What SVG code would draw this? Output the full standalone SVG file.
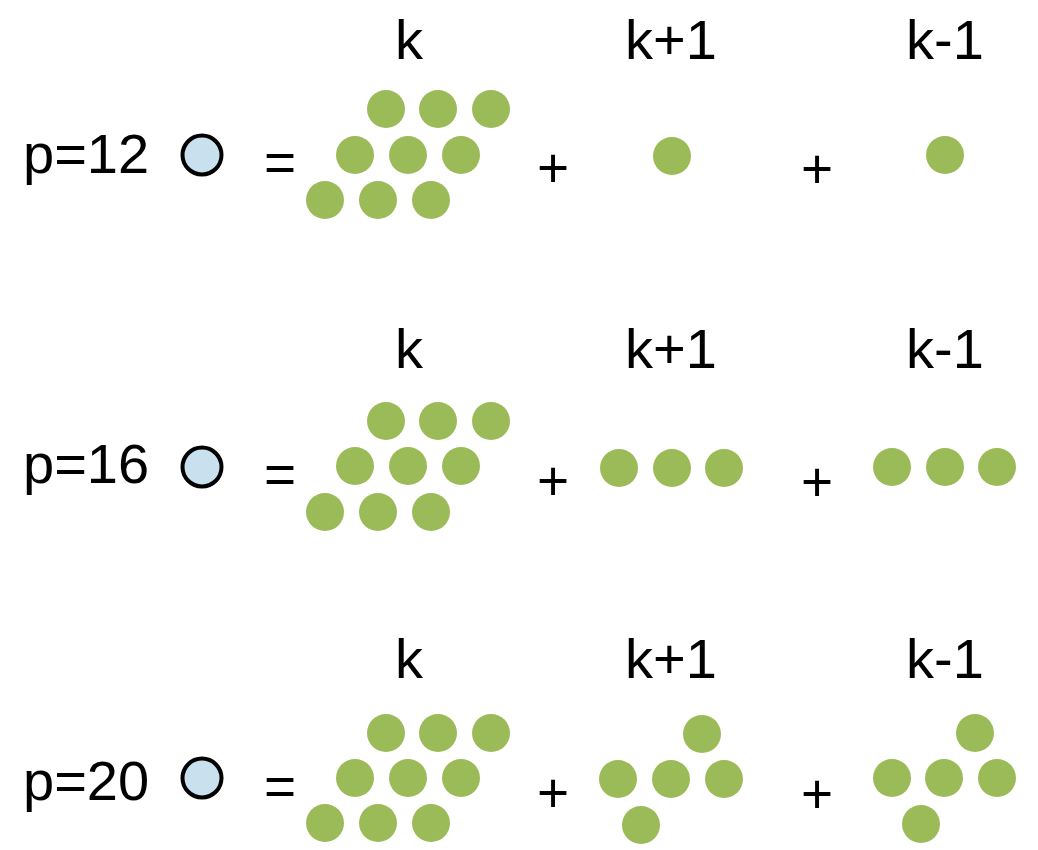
<svg xmlns="http://www.w3.org/2000/svg" width="1038" height="850" viewBox="0 0 1038 850">
<style>
  .t { font-family: "Liberation Sans", Arial, sans-serif; font-size: 56px; fill: #000; }
  .op { font-family: "Liberation Sans", Arial, sans-serif; font-size: 55px; fill: #000; text-anchor: middle; }
  .lbl { font-family: "Liberation Sans", Arial, sans-serif; font-size: 56px; fill: #000; text-anchor: middle; }
  .g { fill: #9BBB59; }
  .b { fill: #C9E0EE; stroke: #000; stroke-width: 4; }
</style>
<rect width="1038" height="850" fill="#fff"/>

<g id="row1">
  <text class="t" x="23" y="173">p=12</text>
  <circle class="b" cx="202" cy="155" r="19.5"/>
  <text class="op" x="280" y="181">=</text>
  <text class="lbl" x="409" y="59">k</text>
  <text class="lbl" x="671" y="59">k+1</text>
  <text class="lbl" x="945" y="59">k-1</text>
  <g id="r1-k">
    <circle class="g" cx="386" cy="109" r="19"/><circle class="g" cx="438" cy="109" r="19"/><circle class="g" cx="491" cy="109" r="19"/>
    <circle class="g" cx="355" cy="155" r="19"/><circle class="g" cx="408" cy="155" r="19"/><circle class="g" cx="461" cy="155" r="19"/>
    <circle class="g" cx="325" cy="200" r="19"/><circle class="g" cx="378" cy="200" r="19"/><circle class="g" cx="431" cy="200" r="19"/>
  </g>
  <text class="op" x="553" y="186.5">+</text>
  <g id="r1-kp1"><circle class="g" cx="672" cy="156" r="19"/></g>
  <text class="op" x="817" y="187.5">+</text>
  <g id="r1-km1"><circle class="g" cx="945" cy="155" r="19"/></g>
</g>

<g id="row2">
  <text class="t" x="23" y="483">p=16</text>
  <circle class="b" cx="202" cy="467" r="19.5"/>
  <text class="op" x="280" y="493">=</text>
  <text class="lbl" x="409" y="368">k</text>
  <text class="lbl" x="671" y="368">k+1</text>
  <text class="lbl" x="945" y="368">k-1</text>
  <g id="r2-k">
    <circle class="g" cx="386" cy="421" r="19"/><circle class="g" cx="438" cy="421" r="19"/><circle class="g" cx="491" cy="421" r="19"/>
    <circle class="g" cx="355" cy="466" r="19"/><circle class="g" cx="408" cy="466" r="19"/><circle class="g" cx="461" cy="466" r="19"/>
    <circle class="g" cx="325" cy="512" r="19"/><circle class="g" cx="378" cy="512" r="19"/><circle class="g" cx="431" cy="512" r="19"/>
  </g>
  <text class="op" x="553" y="499.5">+</text>
  <g id="r2-kp1">
    <circle class="g" cx="619" cy="468" r="19"/><circle class="g" cx="672" cy="468" r="19"/><circle class="g" cx="724" cy="468" r="19"/>
  </g>
  <text class="op" x="817" y="500.5">+</text>
  <g id="r2-km1">
    <circle class="g" cx="892" cy="467" r="19"/><circle class="g" cx="945" cy="467" r="19"/><circle class="g" cx="997" cy="467" r="19"/>
  </g>
</g>

<g id="row3">
  <text class="t" x="23" y="800">p=20</text>
  <circle class="b" cx="202" cy="778" r="19.5"/>
  <text class="op" x="280" y="805">=</text>
  <text class="lbl" x="409" y="678">k</text>
  <text class="lbl" x="671" y="678">k+1</text>
  <text class="lbl" x="945" y="678">k-1</text>
  <g id="r3-k">
    <circle class="g" cx="386" cy="733" r="19"/><circle class="g" cx="438" cy="733" r="19"/><circle class="g" cx="491" cy="733" r="19"/>
    <circle class="g" cx="355" cy="778" r="19"/><circle class="g" cx="408" cy="778" r="19"/><circle class="g" cx="461" cy="778" r="19"/>
    <circle class="g" cx="325" cy="823" r="19"/><circle class="g" cx="378" cy="823" r="19"/><circle class="g" cx="431" cy="823" r="19"/>
  </g>
  <text class="op" x="553" y="811.5">+</text>
  <g id="r3-kp1">
    <circle class="g" cx="702" cy="734" r="19"/>
    <circle class="g" cx="618" cy="779" r="19"/><circle class="g" cx="671" cy="779" r="19"/><circle class="g" cx="724" cy="779" r="19"/>
    <circle class="g" cx="641" cy="825" r="19"/>
  </g>
  <text class="op" x="817" y="812.5">+</text>
  <g id="r3-km1">
    <circle class="g" cx="975" cy="733" r="19"/>
    <circle class="g" cx="892" cy="778" r="19"/><circle class="g" cx="944" cy="778" r="19"/><circle class="g" cx="997" cy="778" r="19"/>
    <circle class="g" cx="921" cy="824" r="19"/>
  </g>
</g>
<g id="connectors"/>
</svg>
